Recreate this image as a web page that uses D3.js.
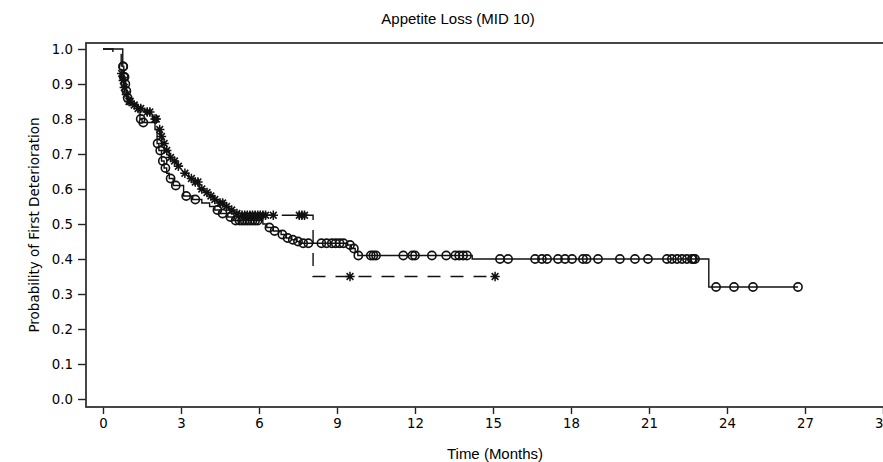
<!DOCTYPE html>
<html>
<head>
<meta charset="utf-8">
<script src="https://cdn.jsdelivr.net/npm/d3@7"></script>
<style>
  html, body { margin: 0; padding: 0; background: #fff; }
  svg { display: block; }
  text { fill: #000; }
</style>
</head>
<body>
<svg id="chart" width="883" height="462"></svg>
<script>
// Kaplan-Meier estimates: [time in months, probability after the event]
const solidSteps = [
  [0, 1.0], [0.76, 0.95], [0.8, 0.92], [0.84, 0.90], [0.88, 0.88], [0.94, 0.86],
  [1.0, 0.845], [1.3, 0.83], [1.42, 0.80], [1.5, 0.79], [2.0, 0.77], [2.08, 0.73],
  [2.15, 0.71], [2.25, 0.68], [2.35, 0.66], [2.45, 0.645], [2.55, 0.63], [2.7, 0.61],
  [3.1, 0.58], [3.45, 0.57], [3.8, 0.56], [4.1, 0.55], [4.3, 0.54], [4.5, 0.53],
  [4.8, 0.52], [5.0, 0.51], [6.15, 0.50], [6.3, 0.49], [6.55, 0.48], [6.85, 0.47],
  [7.05, 0.46], [7.25, 0.455], [7.45, 0.45], [7.6, 0.445], [9.4, 0.44], [9.55, 0.43],
  [9.7, 0.42], [9.8, 0.41], [14.2, 0.40], [23.3, 0.32]
];
const solidEnd = 26.73;
const solidCensored = [
  0.77, 0.78, 0.8, 0.83, 0.86, 0.9, 0.95, 1.45, 1.55, 2.1, 2.2, 2.3, 2.4, 2.6, 2.8,
  3.2, 3.55, 4.4, 4.6, 4.9, 5.1, 5.25, 5.35, 5.45, 5.55, 5.65, 5.75, 5.85, 5.95,
  6.4, 6.6, 6.9, 7.1, 7.3, 7.5, 7.7, 7.9, 8.4, 8.6, 8.8, 8.95, 9.1, 9.25, 9.5, 9.65,
  9.82, 10.3, 10.4, 10.5, 11.55, 11.9, 12.0, 12.65, 13.2, 13.55, 13.7, 13.85, 14.0,
  15.27, 15.58, 16.62, 16.88, 17.08, 17.5, 17.77, 18.04, 18.46, 18.6, 19.04, 19.88,
  20.46, 20.96, 21.69, 21.88, 22.08, 22.27, 22.46, 22.65, 22.69, 22.77,
  23.58, 24.27, 25.0, 26.73
];

const dashedSteps = [
  [0, 1.0], [0.38, 0.99], [0.7, 0.93], [0.75, 0.91], [0.8, 0.89], [0.86, 0.87],
  [0.95, 0.85], [1.1, 0.84], [1.3, 0.83], [1.6, 0.82], [1.9, 0.80], [2.1, 0.79],
  [2.15, 0.77], [2.2, 0.75], [2.3, 0.73], [2.4, 0.71], [2.55, 0.69], [2.7, 0.68],
  [2.85, 0.665], [3.05, 0.645], [3.3, 0.63], [3.5, 0.62], [3.7, 0.60], [3.9, 0.59],
  [4.05, 0.58], [4.25, 0.57], [4.45, 0.56], [4.65, 0.55], [4.85, 0.54], [5.1, 0.53],
  [5.3, 0.525], [8.08, 0.35]
];
const dashedEnd = 15.08;
const dashedCensored = [
  0.72, 0.78, 0.82, 0.9, 1.0, 1.05, 1.2, 1.35, 1.45, 1.7, 1.8, 2.0, 2.05, 2.18, 2.25,
  2.35, 2.45, 2.6, 2.75, 2.9, 3.15, 3.4, 3.55, 3.65, 3.8, 4.0, 4.15, 4.3, 4.5, 4.6,
  4.75, 4.95, 5.15, 5.35, 5.45, 5.55, 5.65, 5.75, 5.85, 5.95, 6.05, 6.15, 6.25,
  6.55, 7.55, 7.65, 7.75, 9.5, 15.08
];

const xTicks = [0, 3, 6, 9, 12, 15, 18, 21, 24, 27, 30];
const yTicks = [0, 0.1, 0.2, 0.3, 0.4, 0.5, 0.6, 0.7, 0.8, 0.9, 1.0];

const svg = d3.select("#chart");
const frame = { left: 86, right: 890, top: 43, bottom: 407 };

const x = d3.scaleLinear().domain([0, 30]).range([103, 883]);
const y = d3.scaleLinear().domain([0, 1]).range([399, 49]);

// probability on a step curve at time t
function valueAt(steps, t) {
  let v = steps[0][1];
  for (const [tt, p] of steps) { if (tt <= t) v = p; else break; }
  return v;
}

// axes
const xAxis = svg.append("g")
  .attr("transform", `translate(0,${frame.bottom})`)
  .call(d3.axisBottom(x).tickValues(xTicks).tickSize(7).tickPadding(5).tickFormat(d3.format("d")));
const yAxis = svg.append("g")
  .attr("transform", `translate(${frame.left},0)`)
  .call(d3.axisLeft(y).tickValues(yTicks).tickSize(8).tickPadding(5).tickFormat(d3.format(".1f")));
[xAxis, yAxis].forEach(g => {
  g.select(".domain").remove();
  g.selectAll("line").attr("stroke", "#222").attr("stroke-width", 1.4);
  g.selectAll("text").attr("font-family", "DejaVu Sans").attr("font-size", 13.3).attr("fill", "#000");
});

// plot frame
svg.append("rect")
  .attr("x", frame.left).attr("y", frame.top)
  .attr("width", frame.right - frame.left).attr("height", frame.bottom - frame.top)
  .attr("fill", "none").attr("stroke", "#333").attr("stroke-width", 1.8);

const plot = svg.append("g");

const stepLine = d3.line().x(d => x(d[0])).y(d => y(d[1])).curve(d3.curveStepAfter);

// dashed curve
plot.append("path")
  .datum(dashedSteps.concat([[dashedEnd, valueAt(dashedSteps, dashedEnd)]]))
  .attr("d", stepLine)
  .attr("fill", "none").attr("stroke", "#111").attr("stroke-width", 1.4)
  .attr("stroke-dasharray", "13,10");

// solid curve
plot.append("path")
  .datum(solidSteps.concat([[solidEnd, valueAt(solidSteps, solidEnd)]]))
  .attr("d", stepLine)
  .attr("fill", "none").attr("stroke", "#111").attr("stroke-width", 1.4);

// censored marks: circles
plot.selectAll("circle.cens")
  .data(solidCensored)
  .join("circle")
  .attr("class", "cens")
  .attr("cx", d => x(d))
  .attr("cy", d => y(valueAt(solidSteps, d)))
  .attr("r", 4.1)
  .attr("fill", "none").attr("stroke", "#111").attr("stroke-width", 1.6);

// censored marks: asterisks
const s = 4.7, s2 = s * 0.72;
const starPath = `M0,${-s}V${s}M${-s},0H${s}M${-s2},${-s2}L${s2},${s2}M${-s2},${s2}L${s2},${-s2}`;
plot.selectAll("path.star")
  .data(dashedCensored)
  .join("path")
  .attr("class", "star")
  .attr("transform", d => `translate(${x(d)},${y(valueAt(dashedSteps, d))})`)
  .attr("d", starPath)
  .attr("fill", "none").attr("stroke", "#111").attr("stroke-width", 1.5);

// titles
svg.append("text")
  .attr("x", 458).attr("y", 24)
  .attr("text-anchor", "middle")
  .attr("font-family", "Liberation Sans, Arial, sans-serif").attr("font-size", 15)
  .text("Appetite Loss (MID 10)");

svg.append("text")
  .attr("x", 495).attr("y", 459)
  .attr("text-anchor", "middle")
  .attr("font-family", "Liberation Sans, Arial, sans-serif").attr("font-size", 15)
  .text("Time (Months)");

svg.append("text")
  .attr("transform", "translate(39,225) rotate(-90)")
  .attr("text-anchor", "middle")
  .attr("font-family", "DejaVu Sans").attr("font-size", 13.5)
  .text("Probability of First Deterioration");
</script>
</body>
</html>
